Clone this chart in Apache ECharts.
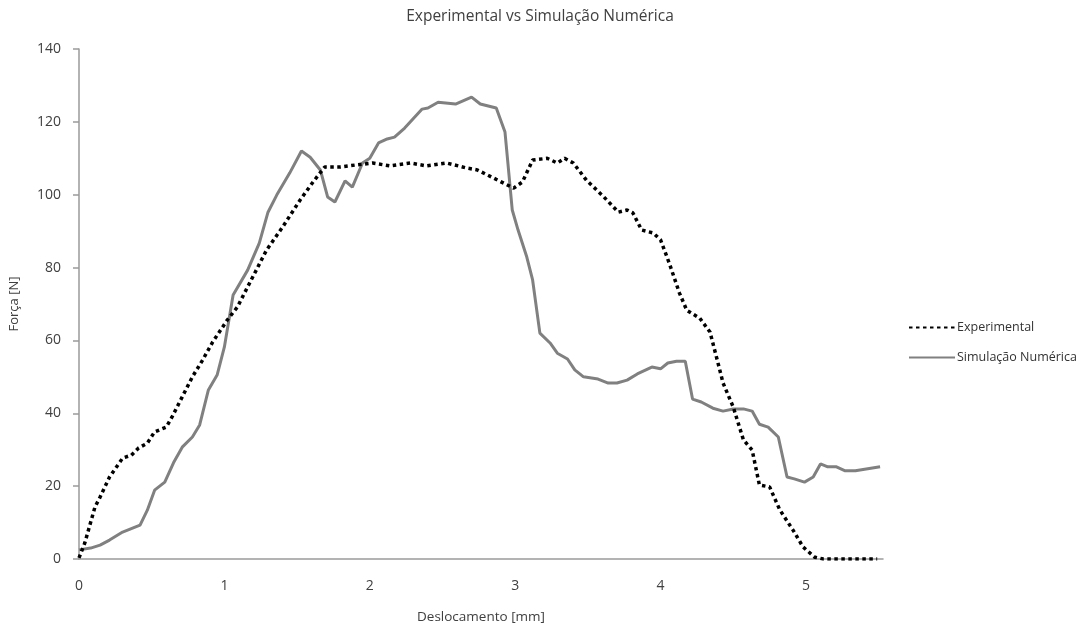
<!DOCTYPE html>
<html>
<head>
<meta charset="utf-8">
<script src="https://cdn.jsdelivr.net/npm/echarts@6/dist/echarts.min.js"></script>
<style>html,body{margin:0;padding:0;background:#fff}#c{width:1080px;height:626px}</style>
</head>
<body>
<div id="c"></div>
<script>
var chartTitle = 'Experimental vs Simulação Numérica';
var xName = 'Deslocamento [mm]';
var yName = 'Força [N]';
var seriesNames = ['Experimental', 'Simulação Numérica'];

var expX = [0.0, 0.04, 0.11, 0.145, 0.21, 0.30, 0.36, 0.41, 0.47, 0.52, 0.60, 0.64, 0.71, 0.78, 0.85, 0.92, 1.02, 1.09, 1.16, 1.29, 1.40, 1.52, 1.61, 1.69, 1.80, 1.91, 2.02, 2.14, 2.28, 2.39, 2.53, 2.67, 2.74, 2.85, 2.99, 3.05, 3.12, 3.22, 3.29, 3.34, 3.40, 3.49, 3.61, 3.71, 3.77, 3.81, 3.87, 3.95, 4.00, 4.06, 4.13, 4.18, 4.27, 4.34, 4.39, 4.43, 4.50, 4.57, 4.63, 4.68, 4.75, 4.82, 4.91, 4.98, 5.06, 5.12, 5.20, 5.30, 5.40, 5.49];
var expY = [0.3, 4.4, 14.3, 17.0, 22.5, 27.7, 28.5, 30.5, 31.8, 34.9, 36.2, 39.0, 44.5, 50.0, 54.6, 59.6, 65.6, 69.2, 74.7, 84.8, 91.1, 98.5, 103.5, 107.6, 107.6, 108.2, 108.7, 107.9, 108.7, 107.9, 108.7, 107.3, 106.8, 104.6, 101.8, 103.5, 109.5, 110.0, 108.7, 110.0, 108.7, 104.0, 99.4, 95.2, 95.8, 95.0, 90.3, 89.5, 87.6, 81.2, 73.0, 68.3, 66.1, 62.3, 54.6, 48.3, 41.7, 32.7, 29.9, 20.3, 19.8, 13.5, 8.0, 3.3, 0.5, 0.0, 0.0, 0.0, 0.0, 0.0];

var simX = [0.0, 0.08, 0.145, 0.21, 0.30, 0.42, 0.47, 0.52, 0.59, 0.65, 0.71, 0.78, 0.83, 0.89, 0.95, 1.00, 1.06, 1.16, 1.24, 1.30, 1.36, 1.45, 1.53, 1.59, 1.66, 1.71, 1.76, 1.83, 1.88, 1.95, 2.00, 2.06, 2.12, 2.17, 2.24, 2.36, 2.40, 2.47, 2.59, 2.70, 2.76, 2.87, 2.93, 2.95, 2.98, 3.02, 3.08, 3.12, 3.17, 3.24, 3.29, 3.36, 3.41, 3.47, 3.57, 3.64, 3.70, 3.77, 3.84, 3.94, 4.00, 4.05, 4.11, 4.17, 4.22, 4.28, 4.36, 4.43, 4.50, 4.57, 4.63, 4.68, 4.74, 4.81, 4.87, 4.92, 4.99, 5.05, 5.10, 5.15, 5.21, 5.27, 5.34, 5.51];
var simY = [2.5, 3.0, 3.8, 5.2, 7.4, 9.3, 13.4, 18.9, 21.1, 26.4, 30.7, 33.5, 36.8, 46.4, 50.5, 58.2, 72.5, 79.3, 86.7, 95.2, 99.9, 106.0, 112.0, 110.3, 106.8, 99.4, 98.0, 103.8, 102.1, 108.7, 110.0, 114.2, 115.3, 115.8, 118.3, 123.5, 123.8, 125.4, 124.9, 126.8, 124.9, 123.8, 117.2, 108.7, 95.8, 90.3, 82.9, 76.6, 62.0, 59.3, 56.5, 54.9, 51.9, 50.0, 49.4, 48.3, 48.3, 49.1, 50.8, 52.7, 52.2, 53.8, 54.3, 54.3, 43.9, 43.1, 41.4, 40.6, 41.2, 41.2, 40.6, 37.0, 36.2, 33.5, 22.5, 22.0, 21.1, 22.5, 26.1, 25.3, 25.3, 24.2, 24.2, 25.3];

function pairs(xs, ys) { return xs.map(function (x, i) { return [x, ys[i]]; }); }

var font = '"Open Sans", "Noto Sans", sans-serif';
var chart = echarts.init(document.getElementById('c'), null, { renderer: 'canvas' });
chart.setOption({
  animation: false,
  backgroundColor: '#ffffff',
  textStyle: { fontFamily: font },
  title: {
    text: chartTitle, left: 'center', top: 4,
    textStyle: { fontFamily: font, fontSize: 15.5, fontWeight: 'normal', color: '#404040' }
  },
  grid: { left: 79, right: 197, top: 49, bottom: 67, containLabel: false, outerBoundsMode: 'none' },
  legend: {
    orient: 'vertical', left: 903, top: 316, itemGap: 17,
    itemWidth: 46, itemHeight: 6,
    itemStyle: { opacity: 0 },
    textStyle: { fontFamily: font, fontSize: 12.5, color: '#333333', padding: [0, 0, 0, -3] },
    data: seriesNames
  },
  xAxis: {
    type: 'value', min: 0, max: 5.53, interval: 1,
    name: xName, nameLocation: 'middle', nameGap: 51,
    nameTextStyle: { fontFamily: font, fontSize: 13.5, color: '#404040' },
    axisLine: { lineStyle: { color: '#9a9a9a', width: 1.5 } },
    axisTick: { show: false },
    splitLine: { show: false },
    axisLabel: { showMaxLabel: false, margin: 20, fontFamily: font, fontSize: 14, color: '#404040' }
  },
  yAxis: {
    type: 'value', min: 0, max: 140, interval: 20,
    name: yName, nameLocation: 'middle', nameGap: 58, nameRotate: 90,
    nameTextStyle: { fontFamily: font, fontSize: 13, color: '#404040' },
    axisLine: { show: true, lineStyle: { color: '#9a9a9a', width: 1.5 } },
    axisTick: { show: true, length: 6, lineStyle: { color: '#9a9a9a', width: 1.5 } },
    splitLine: { show: false },
    axisLabel: { margin: 18, fontFamily: font, fontSize: 14, color: '#404040' }
  },
  series: [
    {
      name: seriesNames[0], type: 'line', symbol: 'none', z: 3,
      data: pairs(expX, expY),
      lineStyle: { color: '#000000', width: 3.5, type: [3.5, 3.5], cap: 'butt' },
      itemStyle: { color: '#000000' }
    },
    {
      name: seriesNames[1], type: 'line', symbol: 'none', z: 2,
      data: pairs(simX, simY),
      lineStyle: { color: '#808080', width: 3 },
      itemStyle: { color: '#808080' }
    }
  ]
});
</script>
</body>
</html>
